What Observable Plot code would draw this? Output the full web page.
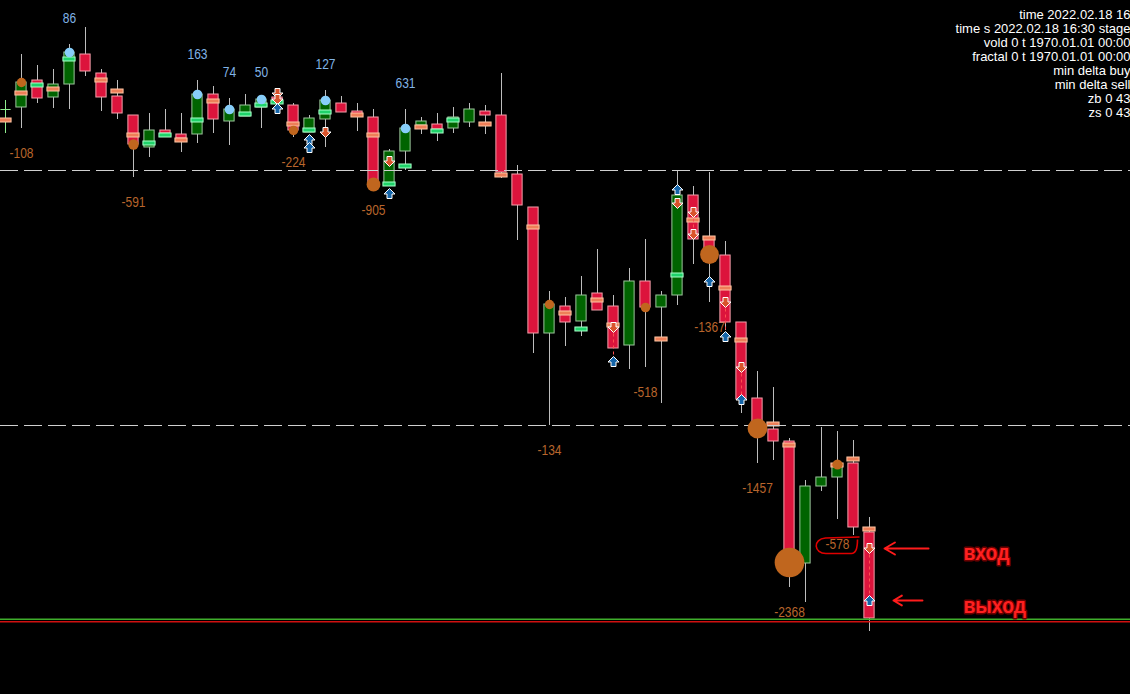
<!DOCTYPE html>
<html><head><meta charset="utf-8">
<script src="https://cdn.jsdelivr.net/npm/d3@7"></script>
<script src="https://cdn.jsdelivr.net/npm/@observablehq/plot@0.6"></script>
<style>
html,body{margin:0;padding:0;background:#000;overflow:hidden;}
#chart{width:1130px;height:694px;}
</style></head><body><div id="chart"></div>
<script>
// ---- candles (bar index, price) ----
const open = [4372.75, 4373.25, 4380, 4375.75, 4379, 4386.5, 4381.75, 4376, 4371.25, 4363.25,
 4367.5, 4366.5, 4366.5, 4376.5, 4369.75, 4371, 4373.25, 4375.75, 4373.75, 4367,
 4370.25, 4374.25, 4372.25, 4370.75, 4353.75, 4362.25, 4368.75, 4369, 4368, 4369.5,
 4372.25, 4371.25, 4356.5, 4348.25, 4316.75, 4323.5, 4319.75, 4326.75, 4323.5, 4313.75,
 4329.75, 4323.25, 4326.25, 4351.25, 4340.75, 4336.25, 4319.5, 4300.5, 4292.75, 4289.75,
 4259.25, 4278.5, 4280.75, 4284.25, 4267];
const high = [4375, 4386.5, 4383.75, 4382.75, 4389, 4393.25, 4382.75, 4380, 4371.25, 4371.75,
 4372.75, 4371.75, 4380, 4378.5, 4375.5, 4376.5, 4375.5, 4377.5, 4374.25, 4371.25,
 4377.5, 4376, 4374.25, 4372.75, 4362.75, 4372.75, 4370.75, 4371.75, 4373.25, 4374.25,
 4373.75, 4381.75, 4358.75, 4348.25, 4327.25, 4325.75, 4331, 4337.75, 4326.25, 4333,
 4340.25, 4327.25, 4357.5, 4353.5, 4357, 4339.75, 4319.5, 4307.25, 4303.25, 4290.5,
 4280, 4293.25, 4292.25, 4290, 4270.75];
const low = [4366.75, 4368, 4374.25, 4373, 4372.75, 4381, 4372.25, 4370.25, 4355.75, 4360.75,
 4365.75, 4362, 4364.25, 4366.75, 4363.75, 4371, 4368, 4371.75, 4365.75, 4367,
 4363.25, 4372, 4367.25, 4353.75, 4353.75, 4357.5, 4366.5, 4364.75, 4366.75, 4368.25,
 4366.5, 4355.5, 4340, 4311.75, 4293.75, 4313.5, 4316, 4322.5, 4313, 4307.75,
 4308.25, 4299.25, 4323.75, 4334, 4324.5, 4317.5, 4296.75, 4284.25, 4285, 4253.25,
 4249.5, 4277.25, 4270.25, 4266.25, 4242.25];
const close = [4372.75, 4379.5, 4375.5, 4379, 4387, 4382.25, 4375.75, 4371.75, 4364, 4367.5,
 4366.75, 4365.5, 4376.5, 4370.25, 4372.75, 4373.75, 4375.25, 4374.25, 4367.5, 4370.5,
 4375, 4372, 4371.5, 4354, 4362.25, 4368, 4369.75, 4367.75, 4370.75, 4372.75,
 4371.25, 4357, 4348.75, 4316.75, 4324, 4319.5, 4326.25, 4322.5, 4313, 4329.75,
 4323.25, 4326.25, 4351.25, 4340.25, 4336.5, 4319.5, 4300.25, 4293, 4289.75, 4259.5,
 4278.5, 4280.75, 4284, 4268.25, 4245.5];
// max-volume level of each bar and its side
const pocPrice = [4370, 4376.75, 4378.75, 4377.75, 4385.25, null, 4380, 4377.25, 4366.25, 4364.25,
 4366.25, 4365, 4370, 4374.75, null, 4371.5, 4373.75, 4374.5, 4369, 4367.5,
 4372, null, 4371.25, 4366.25, 4354, 4358.5, 4368.25, 4367.25, 4370, null,
 4369, 4356.25, null, 4343.25, null, 4321.75, 4317.75, 4325, 4318.75, null,
 null, 4315.25, 4331.25, 4345, 4340.5, 4328, 4315, null, 4294, 4288.75,
 null, null, 4283.75, 4285.25, 4267.75];
const pocSide = ["sell","sell","buy","sell","buy",null,"sell","sell","sell","buy",
 "buy","sell","buy","sell",null,"buy","buy","buy","sell","buy",
 "buy",null,"sell","sell","buy","buy","sell","buy","buy",null,
 "sell","sell",null,"sell",null,"sell","buy","sell","sell",null,
 null,"sell","buy","sell","sell","sell","sell",null,"sell","sell",
 null,null,"sell","sell","sell"];
// delta extremes
const deltaBar = [1, 4, 8, 12, 14, 16, 18, 20, 23, 25, 34, 40, 44, 47, 49, 52];
const deltaValue = [-108, 86, -591, 163, 74, 50, -224, 127, -905, 631, -134, -518, -1367, -1457, -2368, -578];
// signals
const sellBar = [17, 17, 20, 24, 38, 42, 43, 43, 45, 46, 54];
const sellPrice = [4376.75, 4375.25, 4367, 4359.75, 4318.25, 4349.25, 4347, 4341.5, 4324.5, 4308.25, 4263];
const buyBar = [17, 19, 19, 24, 38, 42, 44, 45, 46, 54];
const buyPrice = [4373, 4365.25, 4363.25, 4351.75, 4309.75, 4352.75, 4329.75, 4316, 4300.25, 4250];
// trades
const tradeBar = [38, 43, 45, 46, 54];
const tradeEntry = [4318.25, 4347, 4324.5, 4308.25, 4263];
const tradeExit = [4309.75, 4341.5, 4316, 4300.25, 4250];
// horizontal levels
const levelPrice = [4357.5, 4293.75];
const bottomGreen = 4245.3, bottomRed = 4244.7;
const circledBar = 52;
const infoLines = ["time 2022.02.18 16", "time s 2022.02.18 16:30 stage", "vold 0 t 1970.01.01 00:00",
 "fractal 0 t 1970.01.01 00:00", "min delta buy", "min delta sell", "zb 0 43", "zs 0 43"];
const entryText = "вход", exitText = "выход";

// ---- build tables ----
const bars = open.map((o, i) => ({i, o, h: high[i], l: low[i], c: close[i], poc: pocPrice[i], side: pocSide[i]}));
const deltas = deltaBar.map((b, k) => ({i: b, d: deltaValue[k], c: close[b], h: high[b], l: low[b]}));
const sells = sellBar.map((b, k) => ({i: b, p: sellPrice[k]}));
const buys = buyBar.map((b, k) => ({i: b, p: buyPrice[k]}));
const trades = tradeBar.map((b, k) => ({i: b, e: tradeEntry[k], x: tradeExit[k]}));
const lastTrade = [trades[trades.length - 1]];
const circled = deltas.filter(d => d.i === circledBar);

const arrowDown = {draw(c) {c.moveTo(-2.5,-5);c.lineTo(2.5,-5);c.lineTo(2.5,-0.5);c.lineTo(5.5,-0.5);c.lineTo(0,5);c.lineTo(-5.5,-0.5);c.lineTo(-2.5,-0.5);c.closePath();}};
const arrowUp = {draw(c) {c.moveTo(-2.5,5);c.lineTo(2.5,5);c.lineTo(2.5,0.5);c.lineTo(5.5,0.5);c.lineTo(0,-5);c.lineTo(-5.5,0.5);c.lineTo(-2.5,0.5);c.closePath();}};
const scribble = {draw(c) {c.moveTo(22,-8.5);c.lineTo(-12,-7.5);c.bezierCurveTo(-25,-6.5,-24,8.5,-11,8);c.lineTo(14,8);c.bezierCurveTo(19,8,20,2,20,-6);}};

const RED = "#dc143c", REDB = "#f2a0aa", GRN = "#006400", GRNB = "#9cc49c";
const labelFont = "'Liberation Sans',Arial,sans-serif";

const chart = Plot.plot({
  width: 1130, height: 694,
  margin: 0,
  x: {domain: [-0.3125, 70.3125], axis: null},
  y: {domain: [4226.5, 4400], axis: null},
  color: {type: "identity"},
  r: {type: "linear", domain: [500, 2400], range: [4.7, 15], clamp: true},
  style: {background: "#000", overflow: "visible"},
  marks: [
    Plot.text(deltas.filter(d => d.d < 0), {x: "i", y: "l", dy: 25, text: d => String(d.d), fill: "#b8652c", fontSize: 15, fontFamily: labelFont, ariaDescription: "narrow"}),
    Plot.text(deltas.filter(d => d.d > 0), {x: "i", y: "h", dy: -26, text: d => String(d.d), fill: "#80b4e6", fontSize: 15, fontFamily: labelFont, ariaDescription: "narrow"}),
    Plot.ruleX(bars, {x: "i", y1: "l", y2: "h", stroke: d => d.o === d.c ? "#90ee90" : "#bdbdbd", strokeWidth: 1}),
    Plot.rect(bars.filter(d => d.o !== d.c), {x1: d => d.i - 0.32, x2: d => d.i + 0.32, y1: "o", y2: "c",
      fill: d => d.c > d.o ? GRN : RED, stroke: d => d.c > d.o ? GRNB : REDB, strokeWidth: 1}),
    Plot.link(bars.filter(d => d.o === d.c), {x1: d => d.i - 0.32, x2: d => d.i + 0.32, y1: "o", y2: "o", stroke: "#90ee90"}),
    Plot.rect(bars.filter(d => d.poc != null), {x1: d => d.i - 0.38, x2: d => d.i + 0.38, y1: d => d.poc - 0.5, y2: d => d.poc + 0.5,
      fill: d => d.side === "buy" ? "#1fd36a" : "#ee7f58", stroke: d => d.side === "buy" ? "#a8ffc8" : "#ffc6a4", strokeWidth: 1}),
    Plot.ruleY(levelPrice, {stroke: "#d0d0d0", strokeDasharray: "18,6", strokeWidth: 1}),
    Plot.ruleY([bottomGreen], {stroke: "#3fae2c", strokeWidth: 1.5}),
    Plot.ruleY([bottomRed], {stroke: "#d01010", strokeWidth: 1.5}),
    Plot.link(trades, {x1: "i", x2: "i", y1: "e", y2: "x", stroke: "#ff5050", strokeDasharray: "3,3", strokeWidth: 1}),
    Plot.dot(deltas.filter(d => d.d < 0), {x: "i", y: "c", r: d => -d.d, fill: "#c0661e"}),
    Plot.dot(deltas.filter(d => d.d > 0), {x: "i", y: "c", r: 4.8, fill: "#87cefa"}),
    Plot.dot(sells, {x: "i", y: "p", symbol: arrowDown, fill: "#d9542c", stroke: "#ffffff", strokeWidth: 1}),
    Plot.dot(buys, {x: "i", y: "p", symbol: arrowUp, fill: "#1565a8", stroke: "#ffffff", strokeWidth: 1}),
    Plot.dot(circled, {x: "i", y: "l", dy: 26, symbol: scribble, fill: "none", stroke: "#e00000", strokeWidth: 1.6}),
    Plot.arrow(lastTrade, {x1: d => d.i + 3.69, x2: d => d.i + 0.94, y1: "e", y2: "e", stroke: "#ff1c1c", strokeWidth: 2, headLength: 9, bend: 0}),
    Plot.arrow(lastTrade, {x1: d => d.i + 3.31, x2: d => d.i + 1.5, y1: "x", y2: "x", stroke: "#ff1c1c", strokeWidth: 2, headLength: 9, bend: 0}),
    Plot.text(lastTrade, {x: d => d.i + 5.87, y: "e", dy: 4, text: () => entryText, textAnchor: "start", fill: "#ff2020", stroke: "#6a0000", strokeWidth: 3, fontWeight: "bold", fontSize: 22, fontFamily: labelFont, ariaDescription: "annot"}),
    Plot.text(lastTrade, {x: d => d.i + 5.87, y: "x", dy: 5, text: () => exitText, textAnchor: "start", fill: "#ff2020", stroke: "#6a0000", strokeWidth: 3, fontWeight: "bold", fontSize: 22, fontFamily: labelFont, ariaDescription: "annot"}),
    Plot.text([infoLines.join("\n")], {frameAnchor: "top-right", textAnchor: "end", lineAnchor: "top", dy: 9, dx: 0, fill: "#ffffff", fontSize: 13, lineHeight: 14 / 13, fontFamily: "'Liberation Sans',Arial,sans-serif"})
  ]
});
document.getElementById("chart").appendChild(chart);
// condensed look of the terminal's label font
function squeeze(sel, k) {
  d3.select(chart).selectAll(sel).each(function() {
    const t = this.getAttribute("transform") || "";
    if (t) this.setAttribute("transform", t + ` scale(${k},1)`);
    else {
      const x = +this.getAttribute("x") || 0, y = +this.getAttribute("y") || 0;
      this.setAttribute("transform", `translate(${x},${y}) scale(${k},1) translate(${-x},${-y})`);
    }
  });
}
squeeze('g[aria-description="narrow"] text', 0.8);
squeeze('g[aria-description="annot"] text', 0.88);
</script></body></html>
